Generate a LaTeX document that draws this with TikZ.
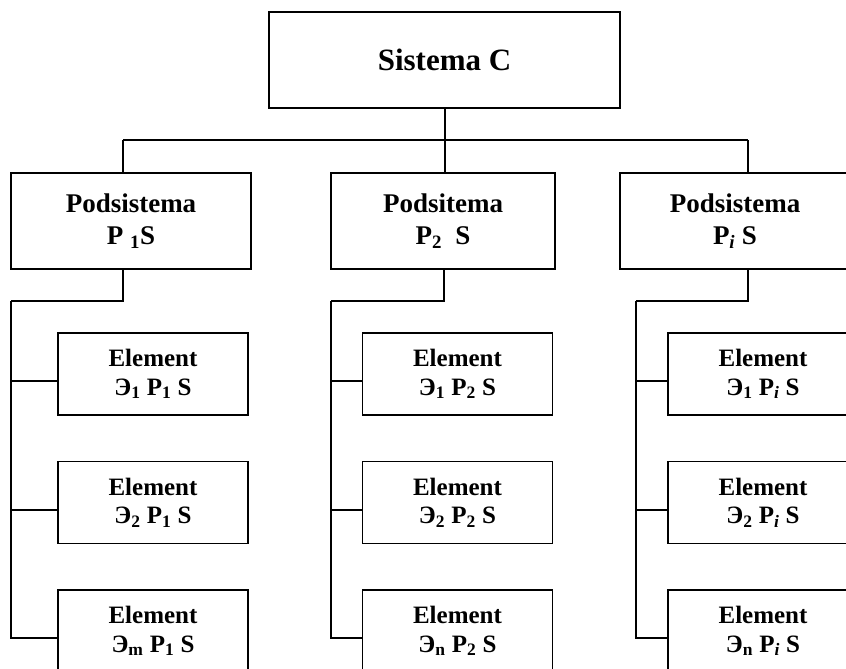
\documentclass[tikz,border=0pt]{standalone}
\usepackage{fontspec}
\setmainfont{Liberation Serif}
\begin{document}
\begin{tikzpicture}[x=1pt, y=-1pt,
  box/.style={draw=black, line width=1.8pt, align=center, inner sep=0pt},
  sysbox/.style={box, minimum width=351pt, minimum height=96pt,
    font=\bfseries\fontsize{31}{36}\selectfont},
  subbox/.style={box, minimum height=96pt,
    font=\bfseries\fontsize{27}{32}\selectfont},
  elbox/.style={box, minimum width=190pt, minimum height=82pt,
    font=\bfseries\fontsize{25}{28.5}\selectfont},
  wire/.style={draw=black, line width=2pt}]
\useasboundingbox (0,0) rectangle (846,669);
\clip (0,0) rectangle (846,669);

% system
\node[sysbox] (sys) at (444.5,60) {Sistema C};

% subsystems
\node[subbox, minimum width=240pt] (p1) at (131,221) {Podsistema\\P~\textsubscript{1}S};
\node[subbox, minimum width=224pt] (p2) at (443,221) {Podsitema\\P\textsubscript{2}~~S};
\node[subbox, minimum width=230pt] (p3) at (735,221) {Podsistema\\P\textsubscript{\itshape i}~S};

% elements of the first subsystem
\node[elbox] (e11) at (153,374)   {Element\\Э\textsubscript{1} P\textsubscript{1} S};
\node[elbox] (e12) at (153,502.5) {Element\\Э\textsubscript{2} P\textsubscript{1} S};
\node[elbox] (e13) at (153,631)   {Element\\Э\textsubscript{m} P\textsubscript{1} S};

% elements of the second subsystem
\node[elbox] (e21) at (457.5,374)   {Element\\Э\textsubscript{1} P\textsubscript{2} S};
\node[elbox] (e22) at (457.5,502.5) {Element\\Э\textsubscript{2} P\textsubscript{2} S};
\node[elbox] (e23) at (457.5,631)   {Element\\Э\textsubscript{n} P\textsubscript{2} S};

% elements of the third subsystem
\node[elbox] (e31) at (763,374)   {Element\\Э\textsubscript{1} P\textsubscript{\itshape i} S};
\node[elbox] (e32) at (763,502.5) {Element\\Э\textsubscript{2} P\textsubscript{\itshape i} S};
\node[elbox] (e33) at (763,631)   {Element\\Э\textsubscript{n} P\textsubscript{\itshape i} S};

% bus from the system to the subsystems
\coordinate (bl) at (123,140);
\coordinate (br) at (748,140);
\draw[wire] (sys.south) -- (sys.south |- p2.north);
\draw[wire] (bl) -- (br);
\draw[wire] (bl) -- (bl |- p1.north);
\draw[wire] (br) -- (br |- p3.north);

% trunks from each subsystem down to its elements
\coordinate (k1) at (123,301);   \coordinate (t1) at (11,301);
\coordinate (k2) at (444,301);   \coordinate (t2) at (331,301);
\coordinate (k3) at (748,301);   \coordinate (t3) at (636,301);
\draw[wire] (k1 |- p1.south) -- (k1) -- (t1);
\draw[wire] (k2 |- p2.south) -- (k2) -- (t2);
\draw[wire] (k3 |- p3.south) -- (k3) -- (t3);

\foreach \e/\t in {e11/t1, e12/t1, e13/t1, e21/t2, e22/t2, e23/t2, e31/t3, e32/t3, e33/t3}
  \draw[wire] ([yshift=-7pt]\e.west) -| (\t);
\end{tikzpicture}
\end{document}
